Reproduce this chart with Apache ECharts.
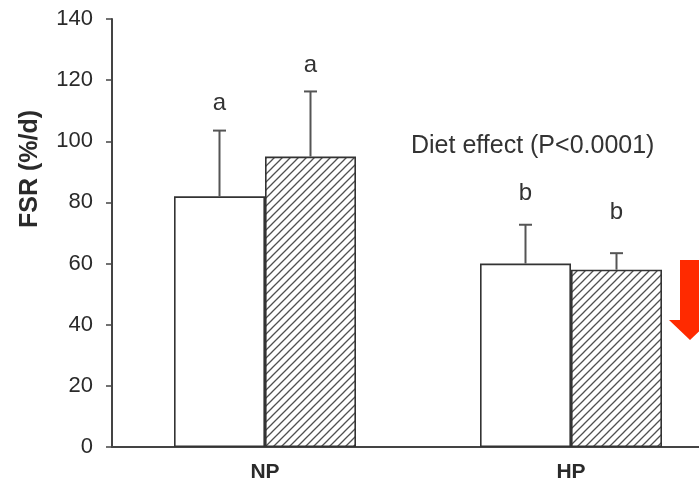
<!DOCTYPE html>
<html>
<head>
<meta charset="utf-8">
<script src="https://cdn.jsdelivr.net/npm/echarts@6/dist/echarts.min.js"></script>
<style>
html,body{margin:0;padding:0;background:#fff;overflow:hidden;width:699px;height:487px;}
#chart{width:724px;height:487px;}
</style>
</head>
<body>
<div id="chart"></div>
<script>
// ---- data ----
const categories = ['NP', 'HP'];
const meanWhite = [82, 60];
const meanHatched = [95, 58];
const sdWhite = [21.5, 12.7];
const sdHatched = [21.3, 5.4];
const letterWhite = ['a', 'b'];
const letterHatched = ['a', 'b'];
const letterPosWhite = [112.5, 83.1];
const letterPosHatched = [124.8, 76.7];
const yTicks = [0, 20, 40, 60, 80, 100, 120, 140];

// ---- styling ----
const FONT = '"Liberation Sans", Arial, Helvetica, sans-serif';
const BAR_W = 91;
const AXIS_C = '#444';

function hatchPattern() {
  const c = document.createElement('canvas');
  c.width = 8; c.height = 8;
  const ctx = c.getContext('2d');
  ctx.fillStyle = '#fff';
  ctx.fillRect(0, 0, 8, 8);
  ctx.strokeStyle = '#505050';
  ctx.lineWidth = 1.3;
  ctx.beginPath();
  ctx.moveTo(0, 8); ctx.lineTo(8, 0);
  ctx.moveTo(-1, 1); ctx.lineTo(1, -1);
  ctx.moveTo(7, 9); ctx.lineTo(9, 7);
  ctx.stroke();
  return c;
}

const errData = [];
categories.forEach((c, i) => {
  errData.push([i, meanWhite[i], meanWhite[i] + sdWhite[i], -1, letterPosWhite[i], letterWhite[i]]);
  errData.push([i, meanHatched[i], meanHatched[i] + sdHatched[i], 1, letterPosHatched[i], letterHatched[i]]);
});

const chart = echarts.init(document.getElementById('chart'), null, {renderer: 'canvas'});
chart.setOption({
  animation: false,
  backgroundColor: '#fff',
  grid: {left: 112, top: 19, right: 0, height: 428},
  xAxis: {
    type: 'category',
    data: categories,
    axisLine: {lineStyle: {color: AXIS_C, width: 2}},
    axisTick: {alignWithLabel: true, length: 6, lineStyle: {color: AXIS_C, width: 1.5}},
    axisLabel: {fontFamily: FONT, fontSize: 21, fontWeight: 'bold', color: '#2a2a2a', margin: 15}
  },
  yAxis: {
    type: 'value',
    min: 0, max: 140, interval: 20,
    axisLine: {show: true, lineStyle: {color: AXIS_C, width: 2}},
    axisTick: {show: true, length: 6, lineStyle: {color: AXIS_C, width: 1.5}},
    splitLine: {show: false},
    axisLabel: {fontFamily: FONT, fontSize: 22, color: '#2a2a2a', margin: 19,
      formatter: v => yTicks.includes(v) ? String(v) : ''}
  },
  series: [
    {
      type: 'bar', name: 'white', data: meanWhite, barWidth: BAR_W, barGap: '0%',
      itemStyle: {color: '#fff', borderColor: '#333', borderWidth: 1.6}
    },
    {
      type: 'bar', name: 'hatched', data: meanHatched, barWidth: BAR_W, barGap: '0%',
      itemStyle: {color: {image: hatchPattern(), repeat: 'repeat'}, borderColor: '#333', borderWidth: 1.6}
    },
    {
      type: 'custom', name: 'err', data: errData, z: 5,
      renderItem: function (params, api) {
        const side = api.value(3);
        const base = api.coord([api.value(0), api.value(1)]);
        const top = api.coord([api.value(0), api.value(2)]);
        const lab = api.coord([api.value(0), api.value(4)]);
        const x = base[0] + side * BAR_W / 2;
        const cap = 6.5;
        const st = {stroke: '#555', lineWidth: 2};
        return {
          type: 'group',
          children: [
            {type: 'line', shape: {x1: x, y1: base[1], x2: x, y2: top[1]}, style: st},
            {type: 'line', shape: {x1: x - cap, y1: top[1], x2: x + cap, y2: top[1]}, style: st},
            {type: 'text', style: {x: x, y: lab[1], text: errData[params.dataIndex][5],
              fontFamily: FONT, fontSize: 24, fill: '#333', align: 'center', verticalAlign: 'middle'}}
          ]
        };
      }
    }
  ],
  graphic: [
    {type: 'text', x: 30, y: 169, rotation: Math.PI / 2,
      style: {text: 'FSR (%/d)', fontFamily: FONT, fontSize: 25, fontWeight: 'bold', fill: '#2a2a2a',
        align: 'center', verticalAlign: 'middle'}},
    {type: 'text', x: 411, y: 146,
      style: {text: 'Diet effect (P<0.0001)', fontFamily: FONT, fontSize: 25, fill: '#333',
        align: 'left', verticalAlign: 'middle'}},
    {type: 'polygon', shape: {points: [[680, 260], [700, 260], [700, 320], [711, 320], [690, 340], [669, 320], [680, 320]]},
      style: {fill: '#ff2a00'}}
  ]
});
</script>
</body>
</html>
